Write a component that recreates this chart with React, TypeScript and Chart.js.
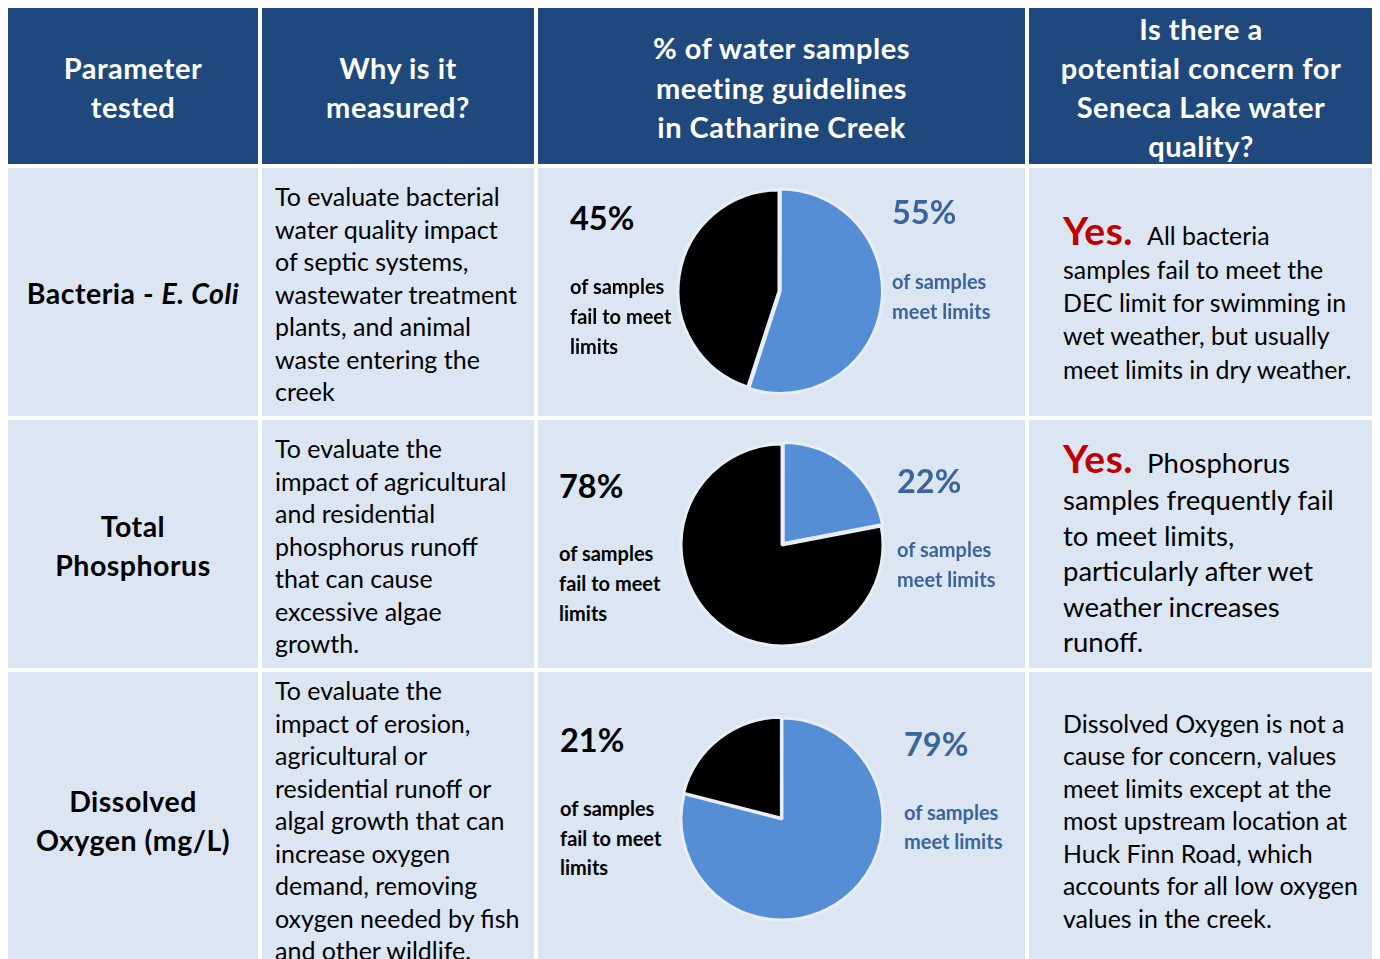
import React, { useEffect, useRef } from 'react';
import { Chart, registerables } from 'chart.js';

Chart.register(...registerables);

// ---------- data ----------
const SLICE_LABELS = ['of samples meet limits', 'of samples fail to meet limits'];
const MEET_PCT = [55, 22, 79];
const FAIL_PCT = [45, 78, 21];

const HEADERS = [
  ['Parameter', 'tested'],
  ['Why is it', 'measured?'],
  ['% of water samples', 'meeting guidelines', 'in Catharine Creek'],
  ['Is there a', 'potential concern for', 'Seneca Lake water', 'quality?'],
];

const WHY_TEXT = [
  ['To evaluate bacterial', 'water quality impact', 'of septic systems,', 'wastewater treatment', 'plants, and animal', 'waste entering the', 'creek'],
  ['To evaluate the', 'impact of agricultural', 'and residential', 'phosphorus runoff', 'that can cause', 'excessive algae', 'growth.'],
  ['To evaluate the', 'impact of erosion,', 'agricultural or', 'residential runoff or', 'algal growth that can', 'increase oxygen', 'demand, removing', 'oxygen needed by fish', 'and other wildlife.'],
];

const CONCERN_LEAD = ['Yes.', 'Yes.', ''];
const CONCERN_TEXT = [
  ['All bacteria', 'samples fail to meet the', 'DEC limit for swimming in', 'wet weather, but usually', 'meet limits in dry weather.'],
  ['Phosphorus', 'samples frequently fail', 'to meet limits,', 'particularly after wet', 'weather increases', 'runoff.'],
  ['Dissolved Oxygen is not a', 'cause for concern, values', 'meet limits except at the', 'most upstream location at', 'Huck Finn Road, which', 'accounts for all low oxygen', 'values in the creek.'],
];

// ---------- style / layout ----------
const FONT = 'Lato, "Noto Sans", sans-serif';
const NAVY = '#1F497D';
const CELL = '#DCE6F2';
const BLUE = '#558ED5';
const BLUE_TEXT = '#3A649A';
const RED = '#C00000';
const GAP = '#E7EEF7';

const O = 8; // container origin on page
const COLS = [
  [8, 258],
  [262, 534],
  [538, 1025],
  [1029, 1373],
];
const ROWS = [
  [8, 164],
  [168, 416],
  [420, 668],
  [672, 980],
];

const HEADER_Y = [
  [68, 107],
  [68, 107],
  [48, 88, 127],
  [29, 68, 107, 146],
];
const PARAM_Y = [[293], [526, 565], [801, 840]];
const WHY_Y0 = [196, 448, 690];
const WHY_DY = 32.5;
const CONCERN_Y = [
  [230, 269, 302, 335, 369],
  [458, 500, 536, 571, 607, 642],
  [723, 755, 788, 820, 853, 885, 918],
];
const CONCERN_SIZE = [24.9, 27.5, 24.9];

const PIE_CENTER = [
  [779, 291],
  [782, 545],
  [782, 819],
];
const PIE_OFFSET = [
  [5, 0],
  [8, 0],
  [0, 4],
];
const FAIL_TXT = [
  { x: 570, pct: 218, lines: [286, 316, 346] },
  { x: 559, pct: 486, lines: [553, 583, 613] },
  { x: 560, pct: 740, lines: [808, 838, 867] },
];
const MEET_TXT = [
  { x: 892, pct: 212, lines: [281, 311] },
  { x: 897, pct: 481, lines: [549, 579] },
  { x: 904, pct: 744, lines: [812, 841] },
];

type LineProps = {
  x: number;
  w?: number;
  cy: number;
  lh?: number;
  align?: 'left' | 'center';
  style?: React.CSSProperties;
  children: React.ReactNode;
};

function Line({ x, w, cy, lh = 40, align = 'left', style, children }: LineProps) {
  return (
    <div
      style={{
        position: 'absolute',
        left: x - O,
        width: w,
        top: cy - lh / 2 - O,
        height: lh,
        lineHeight: lh + 'px',
        whiteSpace: 'nowrap',
        textAlign: align,
        ...style,
      }}
    >
      {children}
    </div>
  );
}

function Pie({ index }: { index: number }) {
  const ref = useRef<HTMLCanvasElement | null>(null);
  useEffect(() => {
    if (!ref.current) return;
    const chart = new Chart(ref.current, {
      type: 'pie',
      data: {
        labels: SLICE_LABELS,
        datasets: [
          {
            data: [MEET_PCT[index], FAIL_PCT[index]],
            backgroundColor: [BLUE, '#000000'],
            borderColor: GAP,
            borderWidth: 3,
            offset: PIE_OFFSET[index],
          },
        ],
      },
      options: {
        responsive: false,
        animation: false,
        radius: 101,
        events: [],
        layout: { padding: 0 },
        plugins: { legend: { display: false }, tooltip: { enabled: false } },
      } as any,
    });
    return () => chart.destroy();
  }, [index]);
  const [cx, cy] = PIE_CENTER[index];
  return (
    <canvas
      ref={ref}
      width={240}
      height={240}
      style={{ position: 'absolute', left: cx - 120 - O, top: cy - 120 - O, width: 240, height: 240 }}
    />
  );
}

export default function App() {
  useEffect(() => {
    document.body.style.overflow = 'hidden';
  }, []);

  const cells: React.ReactNode[] = [];
  ROWS.forEach((r, ri) =>
    COLS.forEach((c, ci) => {
      cells.push(
        <div
          key={`c${ri}-${ci}`}
          style={{
            position: 'absolute',
            left: c[0] - O,
            top: r[0] - O,
            width: c[1] - c[0],
            height: r[1] - r[0],
            background: ri === 0 ? NAVY : CELL,
          }}
        />
      );
    })
  );

  const headerStyle: React.CSSProperties = { color: '#fff', fontWeight: 700, fontSize: 29, letterSpacing: 0.5 };
  const paramStyle: React.CSSProperties = { color: '#000', fontWeight: 700, fontSize: 28.5, letterSpacing: 0.5 };
  const bodyStyle: React.CSSProperties = { color: '#000', fontSize: 25 };
  const pctStyle: React.CSSProperties = { fontWeight: 700, fontSize: 32.5 };
  const lblStyle: React.CSSProperties = { fontWeight: 700, fontSize: 20 };

  return (
    <div style={{ position: 'relative', width: 1372, height: 951, overflow: 'hidden', fontFamily: FONT }}>
      {cells}
      {HEADERS.map((lines, ci) =>
        lines.map((t, li) => (
          <Line key={`h${ci}-${li}`} x={COLS[ci][0]} w={COLS[ci][1] - COLS[ci][0]} cy={HEADER_Y[ci][li]} align="center" style={headerStyle}>
            {t}
          </Line>
        ))
      )}
      {/* parameter column */}
      <Line x={COLS[0][0]} w={COLS[0][1] - COLS[0][0]} cy={PARAM_Y[0][0]} align="center" style={paramStyle}>
        Bacteria - <i>E. Coli</i>
      </Line>
      <Line x={COLS[0][0]} w={COLS[0][1] - COLS[0][0]} cy={PARAM_Y[1][0]} align="center" style={paramStyle}>
        Total
      </Line>
      <Line x={COLS[0][0]} w={COLS[0][1] - COLS[0][0]} cy={PARAM_Y[1][1]} align="center" style={paramStyle}>
        Phosphorus
      </Line>
      <Line x={COLS[0][0]} w={COLS[0][1] - COLS[0][0]} cy={PARAM_Y[2][0]} align="center" style={paramStyle}>
        Dissolved
      </Line>
      <Line x={COLS[0][0]} w={COLS[0][1] - COLS[0][0]} cy={PARAM_Y[2][1]} align="center" style={paramStyle}>
        Oxygen (mg/L)
      </Line>
      {/* why column */}
      {WHY_TEXT.map((lines, ri) =>
        lines.map((t, li) => (
          <Line key={`w${ri}-${li}`} x={275} cy={WHY_Y0[ri] + li * WHY_DY} style={bodyStyle}>
            {t}
          </Line>
        ))
      )}
      {/* pies */}
      {[0, 1, 2].map((i) => (
        <React.Fragment key={`p${i}`}>
          <Pie index={i} />
          <Line x={FAIL_TXT[i].x} cy={FAIL_TXT[i].pct} style={{ ...pctStyle, color: '#000' }}>
            {FAIL_PCT[i]}%
          </Line>
          {['of samples', 'fail to meet', 'limits'].map((t, li) => (
            <Line key={li} x={FAIL_TXT[i].x} cy={FAIL_TXT[i].lines[li]} lh={28} style={{ ...lblStyle, color: '#000' }}>
              {t}
            </Line>
          ))}
          <Line x={MEET_TXT[i].x} cy={MEET_TXT[i].pct} style={{ ...pctStyle, color: BLUE_TEXT }}>
            {MEET_PCT[i]}%
          </Line>
          {['of samples', 'meet limits'].map((t, li) => (
            <Line key={li} x={MEET_TXT[i].x} cy={MEET_TXT[i].lines[li]} lh={28} style={{ ...lblStyle, color: BLUE_TEXT }}>
              {t}
            </Line>
          ))}
        </React.Fragment>
      ))}
      {/* concern column */}
      {CONCERN_TEXT.map((lines, ri) =>
        lines.map((t, li) => (
          <Line key={`k${ri}-${li}`} x={1063} cy={CONCERN_Y[ri][li]} lh={44} style={{ fontSize: CONCERN_SIZE[ri], color: '#000' }}>
            {li === 0 && CONCERN_LEAD[ri] ? (
              <>
                <span style={{ color: RED, fontWeight: 700, fontSize: 39, letterSpacing: 0.5 }}>{CONCERN_LEAD[ri]}</span>
                <span style={{ display: 'inline-block', width: 14 }} />
              </>
            ) : null}
            {t}
          </Line>
        ))
      )}
    </div>
  );
}
